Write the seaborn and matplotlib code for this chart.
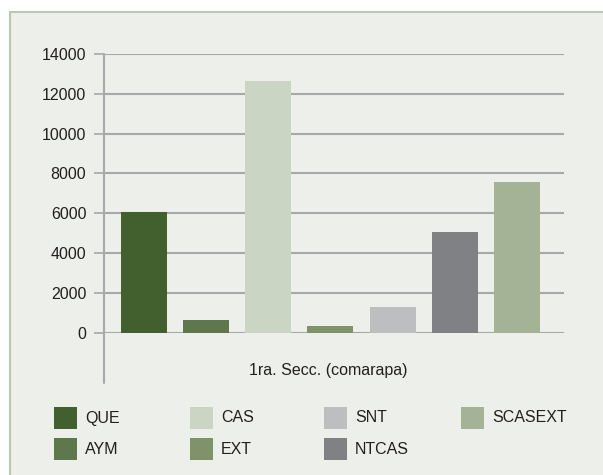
import pandas as pd
import matplotlib
matplotlib.use("Agg")
import matplotlib.pyplot as plt
import seaborn as sns
from matplotlib.patches import Rectangle


SERIES = ["QUE", "AYM", "CAS", "EXT", "SNT", "NTCAS", "SCASEXT"]
VALUES = [6040, 620, 12660, 320, 1270, 5080, 7590]
COLORS = ["#42602D", "#5F774D", "#CBD5C4", "#7F926A", "#BDBEC0", "#808184", "#A4B295"]
CATEGORY = "1ra. Secc. (comarapa)"
Y_TICKS = [0, 2000, 4000, 6000, 8000, 10000, 12000, 14000]

PANEL_BG = "#EDEFEA"
PANEL_EDGE = "#BCC8AF"
GRID_COLOR = "#A7A8AA"
TEXT_COLOR = "#231F20"

W, H = 603, 475


def px(x, y):
    """Pixel position (from top-left) to figure fraction."""
    return x / W, 1 - y / H


def main():
    sns.set_theme(style="white")
    plt.rcParams["font.family"] = ["Liberation Sans", "DejaVu Sans"]

    df = pd.DataFrame({"serie": SERIES, "valor": VALUES})

    fig = plt.figure(figsize=(W / 100, H / 100), dpi=100)
    fig.patch.set_facecolor("white")

    # panel behind the chart (right and bottom edges run off the picture)
    fig.add_artist(Rectangle(px(10, 490), (W + 20 - 10) / W, (490 - 12) / H,
                             transform=fig.transFigure, facecolor=PANEL_BG,
                             edgecolor=PANEL_EDGE, linewidth=1.5, zorder=0))

    ax = fig.add_axes([104 / W, 1 - 332.6 / H, (564 - 104) / W, (332.6 - 54) / H])
    ax.set_facecolor("none")

    sns.barplot(data=df, x="serie", y="valor", hue="serie", palette=COLORS,
                order=SERIES, hue_order=SERIES, width=0.74, legend=False,
                saturation=1, linewidth=0, edgecolor="none", ax=ax, zorder=3)

    ax.set_xlim(-0.643, 6.756)
    ax.set_ylim(0, 14000)
    ax.set_yticks(Y_TICKS)
    ax.set_yticklabels([str(t) for t in Y_TICKS], fontsize=11.5, color=TEXT_COLOR)
    ax.set_xticks([])
    ax.set_xlabel("")
    ax.set_ylabel("")

    for t in Y_TICKS:
        ax.axhline(t, color=GRID_COLOR, linewidth=1.5, zorder=1)

    for s in ax.spines.values():
        s.set_visible(False)

    ax.tick_params(axis="y", length=7.2, width=1.2, color=GRID_COLOR, pad=5.5, left=True)

    # vertical axis line running down to the category label
    ax.axvline(-0.643, ymin=-0.18, ymax=1, color=GRID_COLOR, linewidth=1.5,
               clip_on=False, zorder=2)

    fig.text(*px(328, 371), CATEGORY, ha="center", va="center",
             fontsize=11.5, color=TEXT_COLOR)

    # legend: 4 columns, filled column by column
    col_x = [54, 190, 324, 461]
    row_y = [407, 438]
    for i, (name, color) in enumerate(zip(SERIES, COLORS)):
        c, r = divmod(i, 2)
        x0, y0 = col_x[c], row_y[r]
        fig.add_artist(Rectangle(px(x0, y0 + 22), 23 / W, 22 / H,
                                 transform=fig.transFigure, facecolor=color,
                                 edgecolor="none", zorder=3))
        fig.text(*px(x0 + 31, y0 + 11), name, ha="left", va="center",
                 fontsize=11.5, color=TEXT_COLOR)

    fig.savefig("out.png", dpi=100, facecolor="white")


if __name__ == "__main__":
    main()
